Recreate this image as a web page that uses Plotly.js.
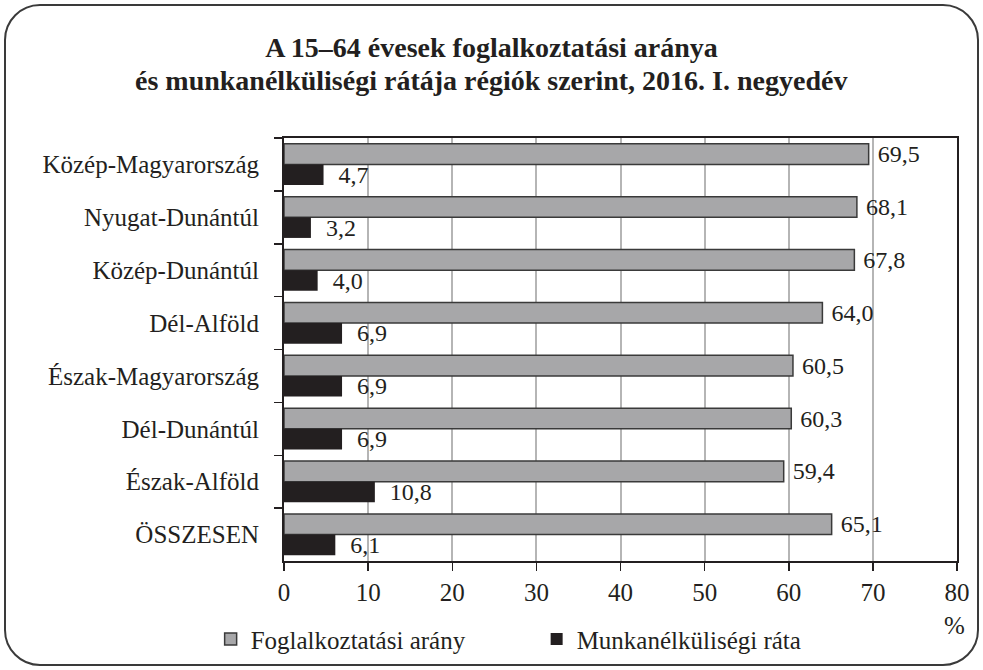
<!DOCTYPE html>
<html>
<head>
<meta charset="utf-8">
<script src="https://cdn.plot.ly/plotly-3.0.1.min.js"></script>
<style>
  html, body { margin: 0; padding: 0; background: #fff; }
  #frame { position: absolute; left: 4px; top: 4px; width: 971px; height: 658px;
           border: 2px solid #3a3a3a; border-radius: 36px; }
  #chart { position: absolute; left: 0; top: 0; width: 983px; height: 670px; }
</style>
</head>
<body>
<div id="frame"></div>
<div id="chart"></div>
<script>
const regions = ["Közép-Magyarország", "Nyugat-Dunántúl", "Közép-Dunántúl", "Dél-Alföld",
                 "Észak-Magyarország", "Dél-Dunántúl", "Észak-Alföld", "ÖSSZESEN"];
const employmentRate = [69.5, 68.1, 67.8, 64.0, 60.5, 60.3, 59.4, 65.1];
const unemploymentRate = [4.7, 3.2, 4.0, 6.9, 6.9, 6.9, 10.8, 6.1];
const seriesNames = ["Foglalkoztatási arány", "Munkanélküliségi ráta"];
const xTicks = [0, 10, 20, 30, 40, 50, 60, 70, 80];
const titleLines = ["A 15–64 évesek foglalkoztatási aránya",
                    "és munkanélküliségi rátája régiók szerint, 2016. I. negyedév"];

const serif = "'Liberation Serif', 'DejaVu Serif', serif";

const traces = [
  {
    type: "bar", orientation: "h", name: seriesNames[0],
    y: regions, x: employmentRate,
    marker: { color: "#a7a7a9", line: { color: "#3a3a3a", width: 1.5 } },
    texttemplate: " %{x:.1f}", textposition: "outside", cliponaxis: false, constraintext: "none",
    textfont: { family: serif, size: 24, color: "#231f20" }
  },
  {
    type: "bar", orientation: "h", name: seriesNames[1],
    y: regions, x: unemploymentRate,
    marker: { color: "#231f20", line: { width: 0 } },
    texttemplate: "  %{x:.1f}", textposition: "outside", cliponaxis: false, constraintext: "none",
    textfont: { family: serif, size: 24, color: "#231f20" }
  }
];

const layout = {
  width: 983, height: 670,
  paper_bgcolor: "rgba(0,0,0,0)", plot_bgcolor: "#fff",
  separators: ", ",
  font: { family: serif, color: "#231f20", size: 25 },
  margin: { l: 284, r: 26, t: 138, b: 109, autoexpand: false },
  title: {
    text: "<b>" + titleLines[0] + "</b>",
    font: { family: serif, size: 28, color: "#231f20" },
    x: 0.5, xanchor: "center", xref: "container",
    y: 1 - 47 / 670, yanchor: "middle", yref: "container"
  },
  barmode: "group", bargap: 0.22, bargroupgap: 0,
  xaxis: {
    range: [0, 80], tickvals: xTicks, ticktext: xTicks.map(String),
    showgrid: true, gridcolor: "#b5b5b5", gridwidth: 2,
    zeroline: false, showline: true, linecolor: "#231f20", linewidth: 2, mirror: true,
    ticks: "outside", ticklen: 8, tickcolor: "#231f20", tickwidth: 1.5,
    ticklabelstandoff: 0,
    tickfont: { family: serif, size: 25, color: "#231f20" }
  },
  yaxis: {
    type: "category", autorange: "reversed",
    showgrid: false, zeroline: false,
    showline: true, linecolor: "#231f20", linewidth: 2, mirror: true,
    ticks: "outside", tickson: "boundaries", ticklen: 8, tickcolor: "#231f20", tickwidth: 1.5,
    ticklabelstandoff: 18,
    tickfont: { family: serif, size: 25, color: "#231f20" }
  },
  showlegend: true,
  legend: {
    orientation: "h", x: -0.109, xanchor: "left", y: -0.185, yanchor: "middle",
    font: { family: serif, size: 25, color: "#231f20" },
    entrywidth: 281, entrywidthmode: "pixels", itemwidth: 30,
    bgcolor: "rgba(0,0,0,0)", traceorder: "normal"
  },
  annotations: [
    { text: "<b>" + titleLines[1] + "</b>", xref: "paper", yref: "paper",
      x: (491 - 284) / 673, y: (561 - 81) / 423, xanchor: "center", yanchor: "middle",
      showarrow: false, font: { family: serif, size: 28, color: "#231f20" } },
    { text: "%", xref: "paper", yref: "paper", x: 0.997, y: -0.152, xanchor: "center", yanchor: "middle",
      showarrow: false, font: { family: serif, size: 25, color: "#231f20" } }
  ]
};

Plotly.newPlot("chart", traces, layout, { displayModeBar: false, staticPlot: true });
</script>
</body>
</html>
